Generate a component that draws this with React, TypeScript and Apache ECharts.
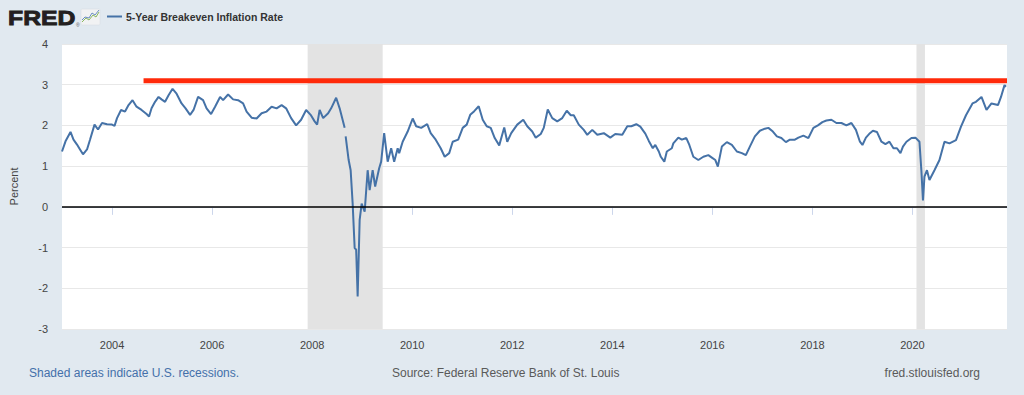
import React, { useEffect, useRef } from "react";
import * as echarts from "echarts";

// decimal years (time) and 5-Year Breakeven Inflation Rate (percent)
const years: number[] = [
  2003.0, 2003.07, 2003.17, 2003.23, 2003.3, 2003.36, 2003.42, 2003.5, 2003.56, 2003.65,
  2003.72, 2003.8, 2003.9, 2004.0, 2004.05, 2004.1, 2004.18, 2004.26, 2004.33, 2004.41,
  2004.49, 2004.59, 2004.69, 2004.74, 2004.79, 2004.86, 2004.93, 2004.99, 2005.06, 2005.13,
  2005.21, 2005.29, 2005.39, 2005.47, 2005.56, 2005.63, 2005.72, 2005.82, 2005.89, 2005.98,
  2006.06, 2006.16, 2006.22, 2006.32, 2006.42, 2006.52, 2006.62, 2006.69, 2006.79, 2006.89,
  2006.99, 2007.09, 2007.19, 2007.29, 2007.39, 2007.48, 2007.58, 2007.68, 2007.78, 2007.88,
  2007.97, 2008.05, 2008.1, 2008.15, 2008.22, 2008.32, 2008.38, 2008.48, 2008.55, 2008.65,
  2008.66, 2008.67, 2008.73, 2008.77, 2008.81, 2008.85, 2008.88, 2008.91, 2008.95, 2008.99,
  2009.05, 2009.11, 2009.15, 2009.21, 2009.26, 2009.34, 2009.38, 2009.44, 2009.51, 2009.58,
  2009.64, 2009.71, 2009.74, 2009.81, 2009.91, 2010.01, 2010.08, 2010.18, 2010.3, 2010.37,
  2010.47, 2010.57, 2010.65, 2010.74, 2010.81, 2010.92, 2011.01, 2011.09, 2011.16, 2011.24,
  2011.33, 2011.41, 2011.49, 2011.57, 2011.65, 2011.74, 2011.84, 2011.9, 2011.98, 2012.1,
  2012.22, 2012.3, 2012.4, 2012.47, 2012.57, 2012.63, 2012.71, 2012.8, 2012.9, 2013.0,
  2013.09, 2013.17, 2013.23, 2013.33, 2013.43, 2013.5, 2013.6, 2013.7, 2013.83, 2013.96,
  2014.06, 2014.2, 2014.3, 2014.38, 2014.48, 2014.56, 2014.66, 2014.73, 2014.81, 2014.86,
  2014.93, 2014.97, 2015.04, 2015.09, 2015.19, 2015.22, 2015.32, 2015.39, 2015.48, 2015.54,
  2015.62, 2015.72, 2015.82, 2015.92, 2015.99, 2016.06, 2016.11, 2016.19, 2016.29, 2016.39,
  2016.49, 2016.59, 2016.67, 2016.75, 2016.85, 2016.95, 2017.05, 2017.12, 2017.21, 2017.29,
  2017.38, 2017.47, 2017.55, 2017.65, 2017.72, 2017.82, 2017.92, 2018.02, 2018.11, 2018.2,
  2018.28, 2018.38, 2018.48, 2018.58, 2018.68, 2018.78, 2018.87, 2018.95, 2019.0, 2019.07,
  2019.15, 2019.21, 2019.29, 2019.38, 2019.46, 2019.54, 2019.62, 2019.69, 2019.76, 2019.81,
  2019.88, 2019.98, 2020.06, 2020.14, 2020.18, 2020.21, 2020.24, 2020.29, 2020.34, 2020.44,
  2020.54, 2020.64, 2020.74, 2020.87, 2020.97, 2021.07, 2021.2, 2021.27, 2021.38, 2021.48,
  2021.58, 2021.71, 2021.77, 2021.84, 2021.87,
];

const rates: (number | string)[] = [
  1.36, 1.61, 1.84, 1.65, 1.53, 1.41, 1.29, 1.41, 1.65, 2.02,
  1.9, 2.06, 2.03, 2.02, 1.99, 2.18, 2.38, 2.34, 2.5, 2.62,
  2.46, 2.38, 2.28, 2.22, 2.42, 2.58, 2.7, 2.64, 2.58, 2.74,
  2.9, 2.78, 2.54, 2.42, 2.26, 2.38, 2.7, 2.62, 2.42, 2.28,
  2.46, 2.7, 2.62, 2.76, 2.64, 2.62, 2.54, 2.34, 2.19, 2.17,
  2.3, 2.34, 2.46, 2.42, 2.5, 2.42, 2.18, 2.0, 2.14, 2.38,
  2.26, 2.1, 2.02, 2.38, 2.18, 2.3, 2.42, 2.68, 2.42, 1.94,
  "-", 1.73, 1.15, 0.9, 0.08, -1.01, -1.05, -2.2, -0.32, 0.08,
  -0.12, 0.9, 0.41, 0.9, 0.5, 0.95, 1.11, 1.81, 1.11, 1.44,
  1.11, 1.44, 1.32, 1.6, 1.85, 2.17, 1.98, 1.94, 2.03, 1.81,
  1.65, 1.44, 1.23, 1.32, 1.6, 1.65, 1.94, 2.02, 2.26, 2.35,
  2.47, 2.14, 1.98, 1.94, 1.69, 1.51, 1.95, 1.6, 1.81, 2.02,
  2.14, 1.98, 1.85, 1.7, 1.79, 1.94, 2.39, 2.18, 2.1, 2.18,
  2.36, 2.25, 2.25, 2.02, 1.89, 1.77, 1.89, 1.77, 1.81, 1.7,
  1.79, 1.77, 1.98, 1.98, 2.03, 1.97, 1.8, 1.62, 1.44, 1.52,
  1.36, 1.23, 1.11, 1.36, 1.44, 1.56, 1.7, 1.65, 1.69, 1.52,
  1.23, 1.15, 1.23, 1.27, 1.21, 1.15, 0.99, 1.48, 1.59, 1.52,
  1.36, 1.32, 1.27, 1.48, 1.73, 1.87, 1.92, 1.94, 1.85, 1.73,
  1.69, 1.59, 1.65, 1.65, 1.7, 1.75, 1.69, 1.94, 2.0, 2.08,
  2.12, 2.14, 2.06, 2.06, 2.0, 2.06, 1.89, 1.6, 1.52, 1.7,
  1.81, 1.87, 1.84, 1.6, 1.54, 1.6, 1.44, 1.44, 1.32, 1.48,
  1.6, 1.69, 1.7, 1.6, 0.86, 0.16, 0.74, 0.9, 0.66, 0.9,
  1.15, 1.6, 1.56, 1.64, 1.97, 2.25, 2.54, 2.58, 2.7, 2.38,
  2.54, 2.5, 2.7, 2.99, 2.95,
];

const recessions: [number, number][] = [
  [2007.91, 2009.41],
  [2020.08, 2020.25],
];

const tickYears: number[] = [2004, 2006, 2008, 2010, 2012, 2014, 2016, 2018, 2020];

// hand-drawn red reference line
const redLineYears: number[] = [2004.63, 2021.89];
const redLineLevel = 3.1;

const X_MIN = 2003;
const X_MAX = 2021.89;

export default function App() {
  const ref = useRef<HTMLDivElement>(null);

  useEffect(() => {
    if (!ref.current) return;
    const chart = echarts.init(ref.current, undefined, { renderer: "svg" });
    const data = years.map((y, i) => [y, rates[i]]);
    const font = "'Liberation Sans', Arial, sans-serif";

    chart.setOption({
      animation: false,
      backgroundColor: "#e1e9f0",
      grid: {
        left: 60,
        right: 17,
        top: 44,
        bottom: 66,
        show: true,
        backgroundColor: "#ffffff",
        borderWidth: 0,
      },
      xAxis: {
        type: "value",
        min: X_MIN,
        max: X_MAX,
        axisLine: { show: true, lineStyle: { color: "#ccd6eb", width: 1 } },
        axisTick: {
          show: true,
          length: 8,
          customValues: tickYears,
          lineStyle: { color: "#ccd6eb" },
        },
        axisLabel: {
          customValues: tickYears,
          formatter: (v: number) => String(Math.round(v)),
          color: "#444",
          fontSize: 11,
          fontFamily: font,
          margin: 10,
        },
        splitLine: { show: false },
      },
      yAxis: {
        type: "value",
        min: -3,
        max: 4,
        interval: 1,
        name: "Percent",
        nameLocation: "middle",
        nameGap: 43,
        nameTextStyle: { color: "#444", fontSize: 11, fontFamily: font },
        axisLine: { show: false },
        axisTick: { show: false },
        axisLabel: { color: "#444", fontSize: 11, fontFamily: font, margin: 14 },
        splitLine: { lineStyle: { color: "#e8e8e8", width: 1 } },
      },
      series: [
        {
          type: "line",
          z: 1,
          data: [[X_MIN, "-"]],
          showSymbol: false,
          silent: true,
          markArea: {
            silent: true,
            itemStyle: { color: "#e3e3e3" },
            data: recessions.map(([a, b]) => [{ xAxis: a }, { xAxis: b }]),
          },
          markLine: {
            silent: true,
            symbol: "none",
            label: { show: false },
            lineStyle: { color: "#000", width: 1.6, type: "solid" },
            data: [{ yAxis: 0 }],
          },
        },
        {
          type: "line",
          z: 3,
          data,
          showSymbol: false,
          connectNulls: false,
          lineStyle: { color: "#4572a7", width: 2 },
          itemStyle: { color: "#4572a7" },
        },
        {
          type: "line",
          z: 4,
          data: redLineYears.map((y) => [y, redLineLevel]),
          showSymbol: false,
          lineStyle: { color: "#ff2a0a", width: 5 },
        },
      ],
      graphic: [
        {
          type: "text",
          x: 8,
          y: 17.5,
          scaleX: 1.18,
          style: {
            text: "FRED",
            font: `bold 21px ${font}`,
            fill: "#231f20",
            stroke: "#231f20",
            lineWidth: 0.9,
            verticalAlign: "middle",
          },
        },
        {
          type: "text",
          x: 76,
          y: 22,
          style: { text: "®", font: `5px ${font}`, fill: "#555" },
        },
        {
          type: "rect",
          shape: { x: 81, y: 9, width: 19, height: 16, r: 1 },
          style: { fill: "#f1f2f3", stroke: "#d5dbe1", lineWidth: 0.5 },
        },
        {
          type: "polyline",
          shape: { points: [[82, 22], [86, 18], [89, 20], [93, 15], [96, 17], [99, 12]] },
          style: { stroke: "#8cb85c", lineWidth: 1, fill: "none" },
        },
        {
          type: "polyline",
          shape: { points: [[82, 20], [85, 17], [89, 18], [92, 13], [95, 15], [99, 10]] },
          style: { stroke: "#6b8fc2", lineWidth: 1, fill: "none" },
        },
        {
          type: "line",
          shape: { x1: 107, y1: 16.5, x2: 122, y2: 16.5 },
          style: { stroke: "#4572a7", lineWidth: 2 },
        },
        {
          type: "text",
          x: 126,
          y: 17,
          style: {
            text: "5-Year Breakeven Inflation Rate",
            font: `bold 10.5px ${font}`,
            fill: "#333",
            verticalAlign: "middle",
          },
        },
        {
          type: "text",
          x: 29,
          y: 373,
          style: {
            text: "Shaded areas indicate U.S. recessions.",
            font: `12px ${font}`,
            fill: "#4470aa",
            verticalAlign: "middle",
          },
        },
        {
          type: "text",
          x: 392,
          y: 373,
          style: {
            text: "Source: Federal Reserve Bank of St. Louis",
            font: `12px ${font}`,
            fill: "#5a5a5a",
            verticalAlign: "middle",
          },
        },
        {
          type: "text",
          x: 980,
          y: 373,
          style: {
            text: "fred.stlouisfed.org",
            font: `12px ${font}`,
            fill: "#5a5a5a",
            align: "right",
            verticalAlign: "middle",
          },
        },
      ],
    });

    return () => chart.dispose();
  }, []);

  return (
    <div
      ref={ref}
      style={{ position: "fixed", left: 0, top: 0, width: 1024, height: 395 }}
    />
  );
}
